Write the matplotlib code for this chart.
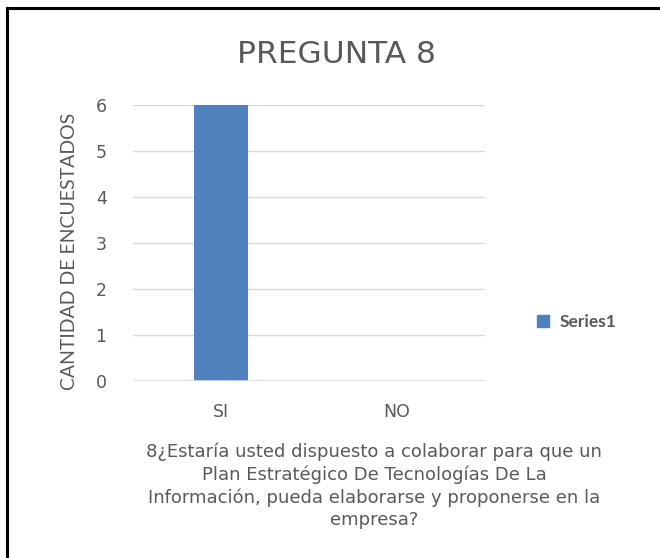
import matplotlib
matplotlib.use("Agg")
import matplotlib.pyplot as plt
from matplotlib.lines import Line2D
from matplotlib.patches import Patch

# ---- data ----
categories = ["SI", "NO"]
values = [6, 0]
series_name = "Series1"
title = "PREGUNTA 8"
ylabel = "CANTIDAD DE ENCUESTADOS"
xlabel = ("8¿Estaría usted dispuesto a colaborar para que un\n"
          "Plan Estratégico De Tecnologías De La\n"
          "Información, pueda elaborarse y proponerse en la\n"
          "empresa?")
yticks = [0, 1, 2, 3, 4, 5, 6]

txt = "#595959"
plt.rcParams['font.family'] = ['DejaVu Sans']

fig = plt.figure(figsize=(6.6, 5.58), dpi=100)
ax = fig.add_axes([0.2015, 0.317, 0.5335, 0.495])

ax.bar(range(len(categories)), values, width=0.31, color="#4F81BD", zorder=3)
ax.set_xlim(-0.5, len(categories) - 0.5)
ax.set_ylim(0, 6)
ax.set_yticks(yticks)
ax.set_xticks(range(len(categories)))
ax.set_xticklabels(categories)
ax.tick_params(length=0, labelsize=12.5, colors=txt, pad=16)
ax.tick_params(axis="y", pad=19)
ax.grid(axis="y", color="#D9D9D9", linewidth=1, zorder=0)
for s in ax.spines.values():
    s.set_visible(False)
ax.axhline(0, color="#D9D9D9", linewidth=1.2, zorder=4)

fig.text(0.509, 0.903, title, ha="center", va="center", fontsize=22.5,
         color=txt)
fig.text(0.106, 0.55, ylabel, ha="center", va="center", rotation=90,
         fontsize=14, color=txt, family=['Lato', 'DejaVu Sans'])
fig.text(0.567, 0.129, xlabel, ha="center", va="center", fontsize=13,
         color=txt, linespacing=1.3)

leg = fig.legend(handles=[Patch(color="#4F81BD", label=series_name)],
                 loc="center left", bbox_to_anchor=(0.79, 0.423), frameon=False,
                 handlelength=0.7, handleheight=0.7, handletextpad=0.6,
                 prop={"size": 12.5, "weight": "bold", "family": "Lato"})
for t in leg.get_texts():
    t.set_color(txt)

# outer chart border (top and left edges visible)
fig.add_artist(Line2D([0.011, 0.011], [0.0, 0.986], color="black", lw=2.2,
                      transform=fig.transFigure))
fig.add_artist(Line2D([0.011, 1.0], [0.986, 0.986], color="black", lw=2.2,
                      transform=fig.transFigure))

fig.savefig("out.png", dpi=100)
